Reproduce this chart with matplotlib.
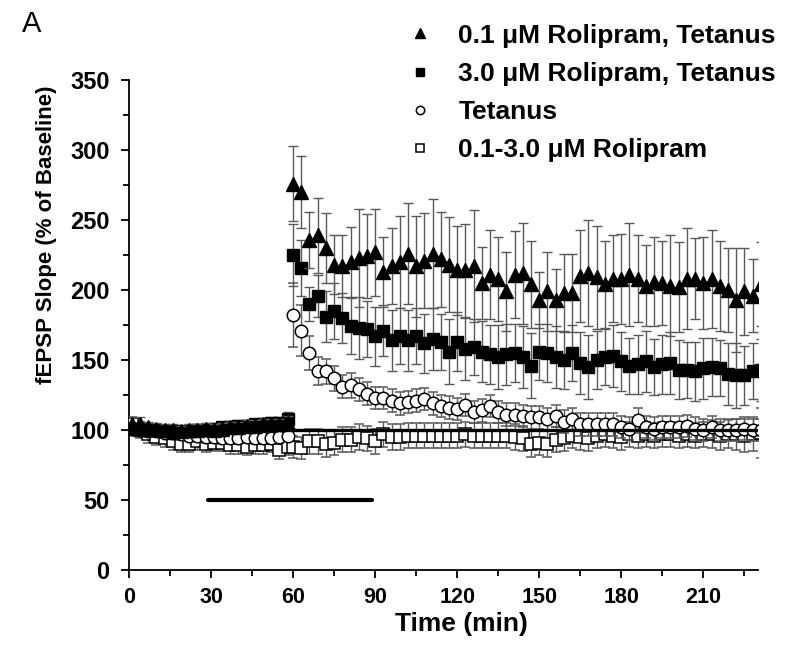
import numpy as np
import matplotlib.pyplot as plt
from matplotlib.lines import Line2D
from matplotlib.ticker import MultipleLocator

plt.rcParams['font.family'] = ['Liberation Sans', 'DejaVu Sans']

# Time points (min): baseline before tetanus, then after tetanus
t_pre = [1, 4, 7, 10, 13, 16, 19, 22, 25, 28, 31, 34, 37, 40, 43, 46, 49, 52, 55, 58]
t_post = [60, 63, 66, 69, 72, 75, 78, 81, 84, 87, 90, 93, 96, 99, 102, 105,
          108, 111, 114, 117, 120, 123, 126, 129, 132, 135, 138, 141, 144, 147, 150,
          153, 156, 159, 162, 165, 168, 171, 174, 177, 180, 183, 186, 189, 192, 195,
          198, 201, 204, 207, 210, 213, 216, 219, 222, 225, 228, 231]

# 0.1 uM Rolipram, Tetanus (filled triangles)
tri_pre = [104, 104, 102, 101, 100, 100, 99, 100, 100, 101, 100, 101, 102, 102, 103, 103, 104, 104, 104, 105]
tri_pre_err = [5, 5, 4, 4, 4, 4, 4, 4, 4, 4, 4, 4, 4, 4, 4, 4, 4, 4, 4, 5]
tri_post = [276, 270, 236, 239, 230, 218, 217, 220, 223, 224, 227, 213, 217, 220, 226, 217,
            221, 226, 222, 218, 214, 214, 217, 205, 211, 208, 199, 211, 212, 204, 193, 199,
            193, 198, 198, 210, 212, 209,
            204, 208, 208, 211, 208, 203, 206, 205, 203, 202, 208, 208, 205, 208, 203, 200,
            193, 199, 196, 204]
tri_post_err = [27, 26, 20, 27, 25, 21, 22, 25, 35, 30, 31, 25, 27, 33, 36, 36,
                34, 39, 34, 34, 32, 33, 40, 26, 32, 30, 28, 31, 36, 31, 20, 28,
                22, 28, 28, 33, 38, 37,
                31, 31, 32, 37, 31, 29, 32, 30, 36, 32, 36, 29, 33, 35, 32, 30,
                37, 31, 26, 30]

# 3.0 uM Rolipram, Tetanus (filled squares)
sq_pre = [101, 100, 100, 100, 99, 98, 99, 99, 100, 100, 101, 102, 102, 103, 103, 104, 104, 105, 105, 108]
sq_pre_err = [4, 4, 4, 4, 4, 4, 4, 4, 4, 4, 4, 4, 4, 4, 4, 4, 4, 4, 4, 5]
sq_post = [225, 216, 190, 196, 181, 185, 180, 174, 173, 172, 167, 171, 164, 167, 164, 167,
           162, 165, 163, 156, 163, 158, 159, 156, 154, 152, 154, 155, 152, 146, 156, 155,
           152, 150, 155, 148, 145, 150,
           152, 153, 149, 146, 147, 149, 145, 147, 148, 143, 143, 142, 144, 145, 144, 140,
           139, 139, 142, 143]
sq_post_err = [22, 20, 12, 15, 18, 20, 18, 20, 22, 20, 21, 18, 22, 20, 22, 20,
               21, 22, 20, 23, 21, 22, 20, 22, 21, 23, 22, 21, 22, 23, 20, 21,
               22, 21, 20, 22, 23, 21,
               20, 22, 21, 20, 21, 22, 20, 21, 22, 21, 20, 21, 22, 21, 20, 22,
               23, 21, 20, 22]

# Tetanus (open circles)
circ_pre = [101, 100, 99, 99, 98, 98, 97, 96, 96, 95, 95, 94, 94, 94, 95, 94, 94, 94, 95, 96]
circ_pre_err = [4, 4, 4, 4, 4, 4, 4, 4, 4, 4, 4, 4, 4, 4, 4, 4, 4, 4, 4, 4]
circ_post = [182, 171, 155, 142, 142, 137, 131, 132, 129, 126, 123, 123, 121, 119, 120, 121,
             122, 119, 117, 116, 115, 118, 113, 114, 117, 113, 111, 111, 110, 109, 109, 108,
             110, 106, 108, 104, 104, 104,
             104, 104, 102, 101, 107, 102, 101, 102, 102, 102, 103, 101, 100, 102, 100, 100,
             100, 101, 100, 100]
circ_post_err = [23, 18, 12, 10, 9, 9, 8, 9, 8, 8, 8, 8, 8, 8, 8, 8,
                 8, 8, 8, 8, 8, 8, 8, 8, 8, 8, 8, 8, 8, 8, 8, 8,
                 8, 8, 8, 8, 8, 8,
                 8, 8, 8, 8, 9, 8, 8, 8, 8, 8, 8, 8, 8, 8, 8, 8,
                 8, 8, 8, 8]

# 0.1-3.0 uM Rolipram (open squares)
osq_pre = [104, 100, 97, 95, 94, 92, 90, 90, 92, 90, 91, 91, 89, 89, 88, 89, 89, 90, 86, 88]
osq_pre_err = [5, 6, 6, 6, 6, 6, 6, 6, 6, 6, 6, 6, 6, 6, 6, 6, 6, 6, 7, 6]
osq_post = [88, 87, 92, 92, 90, 91, 93, 93, 95, 94, 92, 97, 95, 95, 96, 96,
            96, 96, 96, 96, 96, 97, 96, 96, 96, 96, 96, 95, 94, 90, 91, 90,
            93, 94, 96, 95, 94, 96,
            97, 96, 95, 97, 96, 97, 96, 97, 97, 96, 97, 96, 97, 97, 96, 97,
            97, 96, 97, 98]
osq_post_err = [8, 8, 9, 9, 9, 9, 9, 9, 9, 9, 9, 9, 9, 9, 9, 9,
                9, 9, 9, 9, 9, 9, 9, 9, 9, 9, 9, 9, 9, 9, 9, 9,
                9, 9, 9, 9, 9, 9,
                9, 9, 9, 9, 9, 9, 9, 9, 9, 9, 9, 9, 9, 10, 10, 10,
                11, 12, 12, 18]

drug_on, drug_off = 29, 89

fig = plt.figure(figsize=(7.85, 6.57), dpi=100)
ax = fig.add_axes([0.1643, 0.1324, 0.8013, 0.7458])

eb = dict(ecolor='0.35', elinewidth=1, capsize=3.5, capthick=1, linestyle='none')

# open squares
ax.errorbar(t_pre + t_post, osq_pre + osq_post, yerr=osq_pre_err + osq_post_err,
            marker='s', ms=8, mfc='white', mec='black', mew=1.1, zorder=3, **eb)
# open circles
ax.errorbar(t_pre + t_post, circ_pre + circ_post, yerr=circ_pre_err + circ_post_err,
            marker='o', ms=9, mfc='white', mec='black', mew=1.1, zorder=4, **eb)
# filled squares
ax.errorbar(t_pre + t_post, sq_pre + sq_post, yerr=sq_pre_err + sq_post_err,
            marker='s', ms=8, mfc='black', mec='black', zorder=5, **eb)
# filled triangles
ax.errorbar(t_pre + t_post, tri_pre + tri_post, yerr=tri_pre_err + tri_post_err,
            marker='^', ms=10, mfc='black', mec='black', zorder=6, **eb)

# baseline line and drug application bar
ax.axhline(100, color='black', lw=2.4, zorder=4.5)
ax.plot([drug_on, drug_off], [50, 50], color='black', lw=3, solid_capstyle='round')

ax.set_xlim(0, 230)
ax.set_ylim(0, 350)
ax.xaxis.set_major_locator(MultipleLocator(30))
ax.xaxis.set_minor_locator(MultipleLocator(15))
ax.yaxis.set_major_locator(MultipleLocator(50))
ax.yaxis.set_minor_locator(MultipleLocator(25))
ax.spines['top'].set_visible(False)
ax.spines['right'].set_visible(False)
ax.spines['left'].set_linewidth(1.3)
ax.spines['bottom'].set_linewidth(1.3)
ax.tick_params(which='major', length=6, width=1.3)
ax.tick_params(which='minor', length=4, width=1.3)
ax.tick_params(axis='y', pad=8, labelsize=17)
ax.tick_params(axis='x', pad=6, labelsize=15.5)
for lab in ax.get_xticklabels() + ax.get_yticklabels():
    lab.set_fontweight('bold')

ax.set_xlabel('Time (min)', fontsize=19, fontweight='bold')
ax.set_ylabel('fEPSP Slope (% of Baseline)', fontsize=16, fontweight='bold')
ax.xaxis.set_label_coords(0.529, -0.085)
ax.yaxis.set_label_coords(-0.114, 0.684)

fig.text(0.028, 0.964, 'A', fontsize=21, ha='left', va='center')

handles = [
    Line2D([], [], marker='^', ls='none', ms=10, mfc='black', mec='black'),
    Line2D([], [], marker='s', ls='none', ms=8, mfc='black', mec='black'),
    Line2D([], [], marker='o', ls='none', ms=8, mfc='white', mec='black', mew=1.1),
    Line2D([], [], marker='s', ls='none', ms=8, mfc='white', mec='black', mew=1.1),
]
labels = ['0.1 μM Rolipram, Tetanus', '3.0 μM Rolipram, Tetanus',
          'Tetanus', '0.1-3.0 μM Rolipram']
fig.legend(handles, labels, loc='upper left', bbox_to_anchor=(0.505, 0.980),
           frameon=False, markerscale=0.75, handlelength=1.0, handletextpad=0.95,
           borderaxespad=0, labelspacing=0.54, prop={'weight': 'bold', 'size': 19})

fig.savefig('out.png', dpi=100)
